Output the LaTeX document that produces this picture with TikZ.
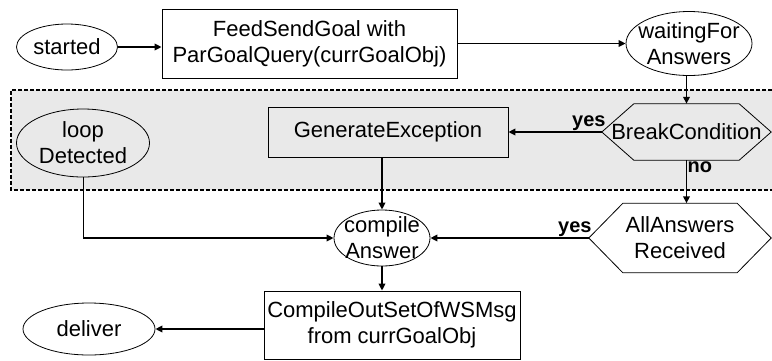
\documentclass[tikz,border=0pt]{standalone}
\usepackage{fontspec}
\setmainfont{Liberation Sans}
\usetikzlibrary{shapes.geometric,arrows.meta,calc}
\definecolor{regionfill}{HTML}{E9E9E9}

\begin{document}
\begin{tikzpicture}[x=1pt,y=-1pt,
  txt/.style={font=\fontsize{22}{26}\selectfont, align=center, inner sep=0pt},
  oval/.style={ellipse, draw, line width=0.8pt, inner sep=0pt},
  procbox/.style={rectangle, draw, line width=0.8pt, inner sep=0pt, fill=white,
                  font=\fontsize{22}{26}\selectfont, align=center},
  hexframe/.style={rectangle, inner sep=0pt, font=\fontsize{22}{26}\selectfont, align=center},
  hexline/.style={line width=0.8pt},
  flow/.style={line width=1.8pt, -{Triangle[length=7pt,width=6.5pt]}},
  tag/.style={font=\fontsize{20}{24}\selectfont\bfseries, inner sep=1pt},
]
\useasboundingbox (0,0) rectangle (772,360);

% shaded loop region
\fill[regionfill] (11,90) rectangle (790,190);
\draw[line width=1.4pt, dash pattern=on 4pt off 2pt]
  (790,90) -- (11,90) -- (11,190) -- (790,190);

% ellipses
\node[oval, minimum width=101pt, minimum height=46pt] (started) at (67,47) {};
\node[txt] at (started) {started};
\node[oval, minimum width=126pt, minimum height=64pt] (waiting) at (689,43.5) {};
\node[txt] at (waiting) {waitingFor\\Answers};
\node[oval, minimum width=133pt, minimum height=68pt] (loop) at (83,143) {};
\node[txt] at (loop) {loop\\Detected};
\node[oval, minimum width=96pt, minimum height=56pt] (compile) at (382,238) {};
\node[txt] at (compile) {compile\\Answer};
\node[oval, minimum width=132pt, minimum height=52pt] (deliver) at (89,329) {};
\node[txt] at (deliver) {deliver};

% process boxes
\node[procbox, minimum width=295pt, minimum height=69pt] (feed) at (309.5,43.5)
  {FeedSendGoal with\\ParGoalQuery(currGoalObj)};
\node[procbox, minimum width=240pt, minimum height=50pt, fill=regionfill] (genex) at (388,132)
  {GenerateException};
\node[procbox, minimum width=256pt, minimum height=68pt] (outbox) at (392,325)
  {CompileOutSetOfWSMsg\\from currGoalObj};

% decisions (hexagons)
\node[hexframe, minimum width=169pt, minimum height=56pt] (break) at (686.5,132) {BreakCondition};
\draw[hexline] (break.west) -- ($(break.north west)+(32,0)$) -- ($(break.north east)+(-32,0)$)
  -- (break.east) -- ($(break.south east)+(-32,0)$) -- ($(break.south west)+(32,0)$) -- cycle;
\node[hexframe, minimum width=182pt, minimum height=69pt] (allans) at (680,238) {AllAnswers\\Received};
\draw[hexline] (allans.west) -- ($(allans.north west)+(34,0)$) -- ($(allans.north east)+(-34,0)$)
  -- (allans.east) -- ($(allans.south east)+(-34,0)$) -- ($(allans.south west)+(34,0)$) -- cycle;

% connectors
\draw[flow] (started.east) -- (started.east -| feed.west);
\draw[flow] (feed.east) -- (waiting.west);
\draw[flow] (waiting.south -| break.north) -- (break.north);
\draw[flow] (break.west) -- (genex.east);
\node[tag, anchor=south east] at ($(break.west)+(5,0)$) {yes};
\draw[flow] (break.south) -- (break.south |- allans.north);
\node[tag, anchor=north west] at (break.south) {no};
\draw[flow] (allans.west) -- (compile.east);
\node[tag, anchor=south east] at ($(allans.west)+(4,0)$) {yes};
\draw[flow] (genex.south -| compile.north) -- (compile.north);
\draw[line width=1pt] (loop.south) -- (loop.south |- compile.west);
\draw[flow] (loop.south |- compile.west) -- (compile.west);
\draw[flow] (compile.south) -- (compile.south |- outbox.north);
\draw[flow] (deliver.east -| outbox.west) -- (deliver.east);
\end{tikzpicture}
\end{document}
